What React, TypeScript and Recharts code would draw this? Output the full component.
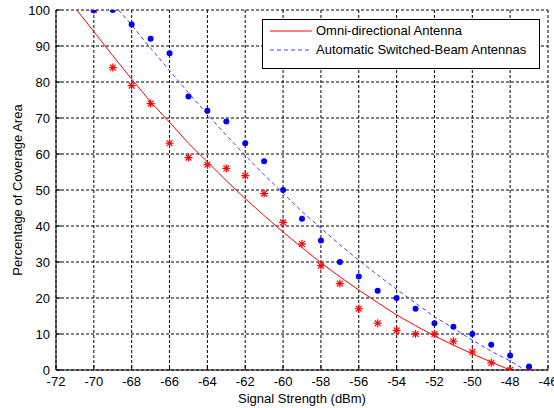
import React from 'react';
import { ComposedChart, Line, Scatter, XAxis, YAxis, CartesianGrid, Legend } from 'recharts';

// Measured signal strengths (dBm)
const signalDbm = [-70, -69, -68, -67, -66, -65, -64, -63, -62, -61, -60, -59, -58, -57, -56, -55, -54, -53, -52, -51, -50, -49, -48, -47];
// Measured coverage (%) – omni-directional antenna (red stars)
const omniCoverage = [100, 84, 79, 74, 63, 59, 57, 56, 54, 49, 41, 35, 29, 24, 17, 13, 11, 10, 10, 8, 5, 2, 0, 0];
// Measured coverage (%) – switched-beam antennas (blue dots)
const beamCoverage = [100, 100, 96, 92, 88, 76, 72, 69, 63, 58, 50, 42, 36, 30, 26, 22, 20, 17, 13, 12, 10, 7, 4, 1];

// Fitted curve – omni (solid red)
const omniFitX = [-70.9, -70, -69, -68, -67, -66, -65, -64, -63, -62, -61, -60, -59, -58, -57, -56, -55, -54, -53, -52, -51, -50, -49, -48];
const omniFitY = [100, 94, 87.3, 80.8, 74.5, 68.8, 63, 57.8, 52.6, 47.6, 42.9, 38.3, 34, 29.8, 25.9, 22.2, 18.7, 15.3, 12.3, 9.5, 6.9, 4.5, 2.2, 0];
// Fitted curve – switched beam (dashed blue)
const beamFitX = [-68.7, -68, -67, -66, -65, -64, -63, -62, -61, -60, -59, -58, -57, -56, -55, -54, -53, -52, -51, -50, -49, -48, -47.2];
const beamFitY = [100, 95.8, 89.4, 83.2, 77, 71, 65.2, 59.6, 54.2, 49.1, 44, 39.4, 34.8, 30.5, 26.4, 22.4, 18.6, 14.8, 11.6, 8.3, 5.2, 2.5, 0];

const xTicks = [-72, -70, -68, -66, -64, -62, -60, -58, -56, -54, -52, -50, -48, -46];
const yTicks = [0, 10, 20, 30, 40, 50, 60, 70, 80, 90, 100];
const seriesNames = ['Omni-directional Antenna', 'Automatic Switched-Beam Antennas'];
const xTitle = 'Signal Strength (dBm)';
const yTitle = 'Percentage of Coverage Area';

const omniPoints = signalDbm.map((x, i) => ({ x, y: omniCoverage[i] }));
const beamPoints = signalDbm.map((x, i) => ({ x, y: beamCoverage[i] }));
const omniFit = omniFitX.map((x, i) => ({ x, y: omniFitY[i] }));
const beamFit = beamFitX.map((x, i) => ({ x, y: beamFitY[i] }));

const FONT = '"Liberation Sans", Arial, Helvetica, sans-serif';
const RED = '#ff0000';
const BLUE = '#0000ff';
const BLUE_LINE = '#4040ff';

const Star = (props: any) => {
  const { cx, cy } = props;
  if (cx == null || cy == null) return null;
  const r = 4;
  const d = 2.9;
  return (
    <g stroke={RED} strokeWidth={1.2}>
      <line x1={cx - r} y1={cy} x2={cx + r} y2={cy} />
      <line x1={cx} y1={cy - r} x2={cx} y2={cy + r} />
      <line x1={cx - d} y1={cy - d} x2={cx + d} y2={cy + d} />
      <line x1={cx - d} y1={cy + d} x2={cx + d} y2={cy - d} />
    </g>
  );
};

const Dot = (props: any) => {
  const { cx, cy } = props;
  if (cx == null || cy == null) return null;
  return <circle cx={cx} cy={cy} r={3} fill={BLUE} />;
};

const XTitle = (props: any) => {
  const vb = props.viewBox || {};
  const cx = vb.x + vb.width / 2;
  const y = vb.y + 33;
  return (
    <text x={cx} y={y} textAnchor="middle" fontFamily={FONT} fontSize={13} fill="#000">
      {xTitle}
    </text>
  );
};

const YTitle = (props: any) => {
  const vb = props.viewBox || {};
  const cx = vb.x + 17;
  const cy = vb.y + vb.height / 2;
  return (
    <text
      x={cx}
      y={cy}
      transform={`rotate(-90 ${cx} ${cy})`}
      textAnchor="middle"
      dominantBaseline="central"
      fontFamily={FONT}
      fontSize={13}
      fill="#000"
    >
      {yTitle}
    </text>
  );
};

const LegendBox = (props: any) => {
  const payload = (props.payload || []).filter((e: any) => seriesNames.indexOf(e.value) >= 0);
  payload.sort((a: any, b: any) => seriesNames.indexOf(a.value) - seriesNames.indexOf(b.value));
  return (
    <div
      style={{
        width: 278,
        height: 50,
        boxSizing: 'border-box',
        border: '1px solid #000',
        background: '#fff',
        position: 'relative',
        fontFamily: FONT,
        fontSize: 13,
        color: '#000',
      }}
    >
      {payload.map((entry: any, i: number) => (
        <div
          key={i}
          style={{
            position: 'absolute',
            left: 7,
            top: 3 + i * 19,
            height: 16,
            display: 'flex',
            alignItems: 'center',
            whiteSpace: 'nowrap',
          }}
        >
          <svg width={42} height={16} style={{ display: 'block' }}>
            <line
              x1={0}
              y1={8}
              x2={42}
              y2={8}
              stroke={entry.color}
              strokeWidth={1}
              strokeDasharray={entry.payload && entry.payload.strokeDasharray}
            />
          </svg>
          <span style={{ marginLeft: 4, lineHeight: '16px' }}>{entry.value}</span>
        </div>
      ))}
    </div>
  );
};

export default function App() {
  const tickStyle = { fill: '#000', fontSize: 13, fontFamily: FONT };
  return (
    <div style={{ position: 'absolute', left: 0, top: 0, width: 554, height: 408, background: '#fff' }}>
      <ComposedChart width={554} height={408} margin={{ top: 10, right: 6, bottom: 0, left: 0 }}>
        <CartesianGrid xAxisId="x" yAxisId="y" stroke="#000" strokeDasharray="3 2" />
        <XAxis
          xAxisId="x"
          type="number"
          dataKey="x"
          domain={[-72, -46]}
          ticks={xTicks}
          interval={0}
          allowDataOverflow
          height={38}
          stroke="#000"
          tickSize={-5}
          tickMargin={12}
          tick={tickStyle}
          label={XTitle}
        />
        <XAxis
          xAxisId="top"
          orientation="top"
          type="number"
          dataKey="x"
          domain={[-72, -46]}
          ticks={xTicks}
          interval={0}
          allowDataOverflow
          height={0}
          mirror
          tick={false}
          tickSize={5}
          stroke="#000"
        />
        <YAxis
          yAxisId="y"
          type="number"
          dataKey="y"
          domain={[0, 100]}
          ticks={yTicks}
          interval={0}
          allowDataOverflow
          width={56}
          stroke="#000"
          tickSize={-5}
          tickMargin={11}
          tick={tickStyle}
          label={YTitle}
        />
        <YAxis
          yAxisId="right"
          orientation="right"
          type="number"
          dataKey="y"
          domain={[0, 100]}
          ticks={yTicks}
          interval={0}
          allowDataOverflow
          width={0}
          mirror
          tick={false}
          tickSize={5}
          stroke="#000"
        />
        <Scatter
          xAxisId="x"
          yAxisId="y"
          data={omniPoints}
          dataKey="y"
          shape={Star}
          legendType="none"
          isAnimationActive={false}
        />
        <Line
          xAxisId="x"
          yAxisId="y"
          data={omniFit}
          dataKey="y"
          name={seriesNames[0]}
          type="linear"
          stroke={RED}
          strokeWidth={1}
          dot={false}
          activeDot={false}
          isAnimationActive={false}
        />
        <Scatter
          xAxisId="x"
          yAxisId="y"
          data={beamPoints}
          dataKey="y"
          shape={Dot}
          legendType="none"
          isAnimationActive={false}
        />
        <Line
          xAxisId="x"
          yAxisId="y"
          data={beamFit}
          dataKey="y"
          name={seriesNames[1]}
          type="linear"
          stroke={BLUE_LINE}
          strokeWidth={1}
          strokeDasharray="4 3"
          dot={false}
          activeDot={false}
          isAnimationActive={false}
        />
        <Legend
          layout="vertical"
          align="center"
          verticalAlign="middle"
          content={LegendBox}
          wrapperStyle={{ left: 262, top: 19, width: 278, height: 50 }}
        />
      </ComposedChart>
    </div>
  );
}
